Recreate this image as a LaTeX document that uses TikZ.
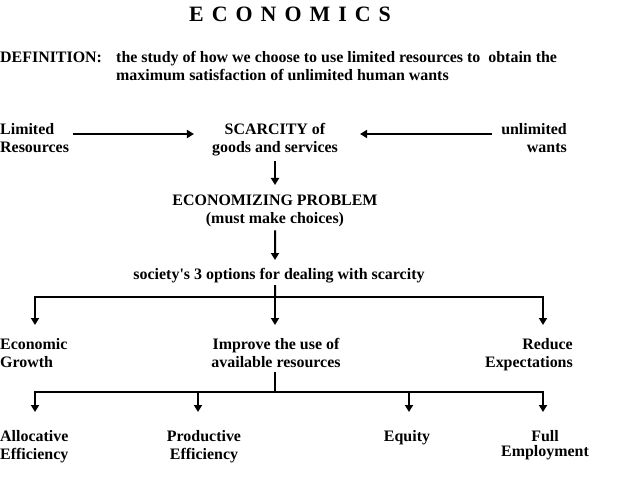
\documentclass[tikz,border=0pt]{standalone}
\usepackage{fontspec}
\setmainfont{Liberation Serif}
\usetikzlibrary{arrows.meta}
\tikzset{
  ecword/.style={inner sep=0pt, font=\fontsize{16}{18}\selectfont\bfseries, align=center},
  ecleft/.style={ecword, align=left},
  ecright/.style={ecword, align=right},
  ecbus/.style={line width=2bp},
  ecflow/.style={line width=2bp, -{Triangle[width=8bp,length=7bp]}}
}

\begin{document}
\begin{tikzpicture}[x=1bp,y=-1bp]
    \useasboundingbox (0,0) rectangle (640,480);
    \node[inner sep=0pt, anchor=north, font=\fontsize{22}{24}\selectfont\bfseries] (title) at (290,7)
      {E\hspace{8bp}C\hspace{8bp}O\hspace{8bp}N\hspace{8bp}O\hspace{8bp}M\hspace{8bp}I\hspace{8bp}C\hspace{8bp}S};
    \node[ecleft, anchor=north west] (defn) at (0,52) {DEFINITION:};
    \node[ecleft, anchor=north west] (deft) at (116,51) {the study of how we choose to use limited resources to\ \ obtain the\\maximum satisfaction of unlimited human wants};
    % scarcity row
    \node[ecleft, anchor=north west] (lim) at (0,123) {Limited\\Resources};
    \node[ecword, anchor=north] (scar) at (275,123) {SCARCITY of\\goods and services};
    \node[ecright, anchor=north east] (want) at (567,123) {unlimited\\wants};
    \draw[ecflow] ([xshift=4bp,yshift=-11bp]lim.north east) -- ([xshift=-18bp,yshift=-11bp]scar.north west);
    \draw[ecflow] ([xshift=-9bp,yshift=-11bp]want.north west) -- ([xshift=22bp,yshift=-11bp]scar.north east);
    \node[ecword, anchor=north] (econ) at (275,195) {ECONOMIZING PROBLEM\\(must make choices)};
    \draw[ecflow] ([yshift=-5bp]scar.south) -- ([yshift=10bp]econ.north);
    \node[ecword, anchor=north] (opt) at (279,268) {society\textquotesingle s 3 options for dealing with scarcity};
    \draw[ecflow] ([yshift=-3bp]econ.south) -- ([xshift=-4bp,yshift=8bp]opt.north);
    % three options
    \coordinate (split) at (275,297);
    \node[ecleft, anchor=north west] (grow) at (0,338) {Economic\\Growth};
    \node[ecword, anchor=north] (impr) at (276,338) {Improve the use of\\available resources};
    \node[ecright, anchor=north east] (redu) at (573,338) {Reduce\\Expectations};
    \draw[ecbus] ([xshift=-4bp,yshift=-2bp]opt.south) -- (split);
    \draw[ecflow] (split) -| ([xshift=35bp,yshift=13bp]grow.north west);
    \draw[ecflow] (split) -- ([xshift=-1bp,yshift=13bp]impr.north);
    \draw[ecflow] (split) -| ([xshift=-30bp,yshift=13bp]redu.north east);
    % four ways to use resources
    \coordinate (use) at (275,392);
    \node[ecleft, anchor=north west] (alloc) at (0,430) {Allocative\\Efficiency};
    \node[ecword, anchor=north] (prod) at (204,430) {Productive\\Efficiency};
    \node[ecword, anchor=north] (equi) at (407,430) {Equity};
    \node[ecword, anchor=north, font=\fontsize{16}{15}\selectfont\bfseries] (full) at (545,430) {Full\\Employment};
    \draw[ecbus] ([xshift=-1bp,yshift=-4bp]impr.south) -- (use);
    \draw[ecflow] (use) -| ([xshift=35bp,yshift=18bp]alloc.north west);
    \draw[ecflow] (use) -| ([xshift=-6bp,yshift=18bp]prod.north);
    \draw[ecflow] (use) -| ([xshift=2bp,yshift=18bp]equi.north);
    \draw[ecflow] (use) -| ([xshift=-2bp,yshift=18bp]full.north);
  \end{tikzpicture}
\end{document}
